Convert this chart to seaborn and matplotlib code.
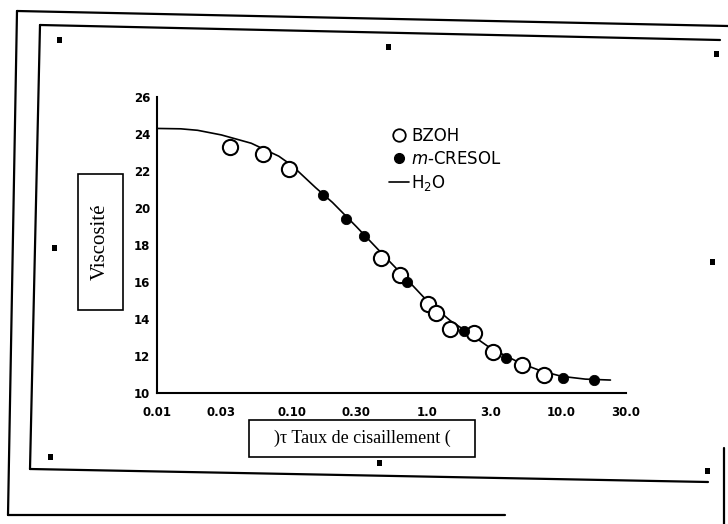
import numpy as np
import pandas as pd
import matplotlib
matplotlib.use("Agg")
import matplotlib.pyplot as plt
import seaborn as sns
from matplotlib.lines import Line2D
from matplotlib.patches import Rectangle

# ---- data ----
bzoh_rate = [0.035, 0.061, 0.095, 0.46, 0.63, 1.02, 1.17, 1.48, 2.23, 3.08, 5.05, 7.36]
bzoh_visc = [23.3, 22.9, 22.1, 17.3, 16.4, 14.8, 14.3, 13.45, 13.25, 12.2, 11.5, 11.0]
cresol_rate = [0.17, 0.25, 0.34, 0.71, 1.88, 3.9, 10.2, 17.3]
cresol_visc = [20.7, 19.4, 18.5, 16.0, 13.35, 11.9, 10.8, 10.7]
water_rate = [0.01, 0.015, 0.02, 0.03, 0.05, 0.08, 0.1, 0.15, 0.2, 0.3, 0.5, 0.7,
              1.0, 1.5, 2.0, 3.0, 5.0, 7.0, 10, 15, 23]
water_visc = [24.3, 24.28, 24.2, 23.95, 23.5, 22.8, 22.3, 21.1, 20.3, 19.0, 17.3, 16.2,
              15.0, 13.9, 13.3, 12.4, 11.6, 11.2, 10.9, 10.75, 10.7]
x_ticks = [0.01, 0.03, 0.1, 0.3, 1, 3, 10, 30]
x_tick_labels = ["0.01", "0.03", "0.10", "0.30", "1.0", "3.0", "10.0", "30.0"]
y_ticks = [10, 12, 14, 16, 18, 20, 22, 24, 26]
legend_labels = ["BZOH", "$m$-CRESOL", "H$_2$O"]
y_title = "Viscosité"
x_title = ")τ Taux de cisaillement ("

bzoh = pd.DataFrame({"rate": bzoh_rate, "visc": bzoh_visc})
cresol = pd.DataFrame({"rate": cresol_rate, "visc": cresol_visc})
water = pd.DataFrame({"rate": water_rate, "visc": water_visc})

sns.set_theme(style="white")
plt.rcParams['font.family'] = ['DejaVu Sans']

W, H = 728, 524
fig = plt.figure(figsize=(W / 100, H / 100), dpi=100)
fig.patch.set_facecolor("white")


def fx(x):
    return x / W


def fy(y):
    return 1 - y / H


ax = fig.add_axes([fx(157), fy(393), fx(626) - fx(157), fy(97) - fy(393)])
ax.set_facecolor("white")
ax.set_xscale("log")

sns.lineplot(data=water, x="rate", y="visc", ax=ax, color="black", linewidth=1.2,
             sort=False, zorder=2)
sns.scatterplot(data=bzoh, x="rate", y="visc", ax=ax, marker="o", s=120,
                facecolor="white", edgecolor="black", linewidth=1.5, zorder=3)
sns.scatterplot(data=cresol, x="rate", y="visc", ax=ax, marker="o", s=55,
                color="black", edgecolor="black", zorder=4)

ax.set_xlim(0.01, 30)
ax.set_ylim(10, 26)
ax.set_xticks(x_ticks)
ax.set_xticklabels(x_tick_labels)
ax.set_yticks(y_ticks)
ax.set_yticklabels([str(v) for v in y_ticks])
ax.minorticks_off()
ax.tick_params(direction="in", length=4, width=1, colors="black", labelsize=8.5)
ax.tick_params(axis="x", pad=9)
ax.tick_params(axis="y", pad=5)
for lab in ax.get_xticklabels() + ax.get_yticklabels():
    lab.set_fontweight("bold")
ax.set_xlabel("")
ax.set_ylabel("")
for s in ["top", "right"]:
    ax.spines[s].set_visible(False)
for s in ["left", "bottom"]:
    ax.spines[s].set_color("black")
    ax.spines[s].set_linewidth(1.5)

# legend
handles = [
    Line2D([], [], marker="o", ls="none", mfc="white", mec="black", mew=1.3, ms=9),
    Line2D([], [], marker="o", ls="none", mfc="black", mec="black", ms=7),
    Line2D([], [], color="black", lw=1.2),
]
leg = ax.legend(handles, legend_labels, loc="upper left",
                bbox_to_anchor=(fx(374), fy(112)), bbox_transform=fig.transFigure,
                frameon=False, handlelength=1.2, handletextpad=0.15,
                labelspacing=0.3, fontsize=12)
for t in leg.get_texts():
    t.set_color("black")

# axis title boxes
fig.add_artist(Rectangle((fx(78), fy(310)), fx(123) - fx(78), fy(174) - fy(310),
                         transform=fig.transFigure, fill=False, ec="black", lw=1.2))
fig.text(fx(100.5), fy(242), y_title, rotation=90, ha="center", va="center",
         family="Liberation Serif", fontsize=15, color="black")
fig.add_artist(Rectangle((fx(249), fy(457)), fx(475) - fx(249), fy(420) - fy(457),
                         transform=fig.transFigure, fill=False, ec="black", lw=1.2))
fig.text(fx(362), fy(438.5), x_title, ha="center", va="center",
         family="Liberation Serif", fontsize=13, color="black")

# scanned page frames
def seg(x0, y0, x1, y1, lw=1.6):
    fig.add_artist(Line2D([fx(x0), fx(x1)], [fy(y0), fy(y1)],
                          transform=fig.transFigure, color="black", lw=lw))

# outer frame
seg(17, 11, 728, 26)
seg(17, 11, 8, 515)
seg(8, 515, 505, 515)
seg(724, 448, 724, 524)
# inner frame
seg(40, 25, 720, 40)
seg(40, 25, 30, 469)
seg(30, 469, 708, 482)

# selection handles
for hx, hy in [(59, 40), (388, 47), (716, 54), (55, 248), (712, 262),
               (50, 457), (379, 463), (707, 471)]:
    fig.add_artist(Rectangle((fx(hx - 2.5), fy(hy + 3)), fx(5), 6 / H,
                             transform=fig.transFigure, color="black", lw=0))

fig.savefig("out.png", dpi=100, facecolor="white")
